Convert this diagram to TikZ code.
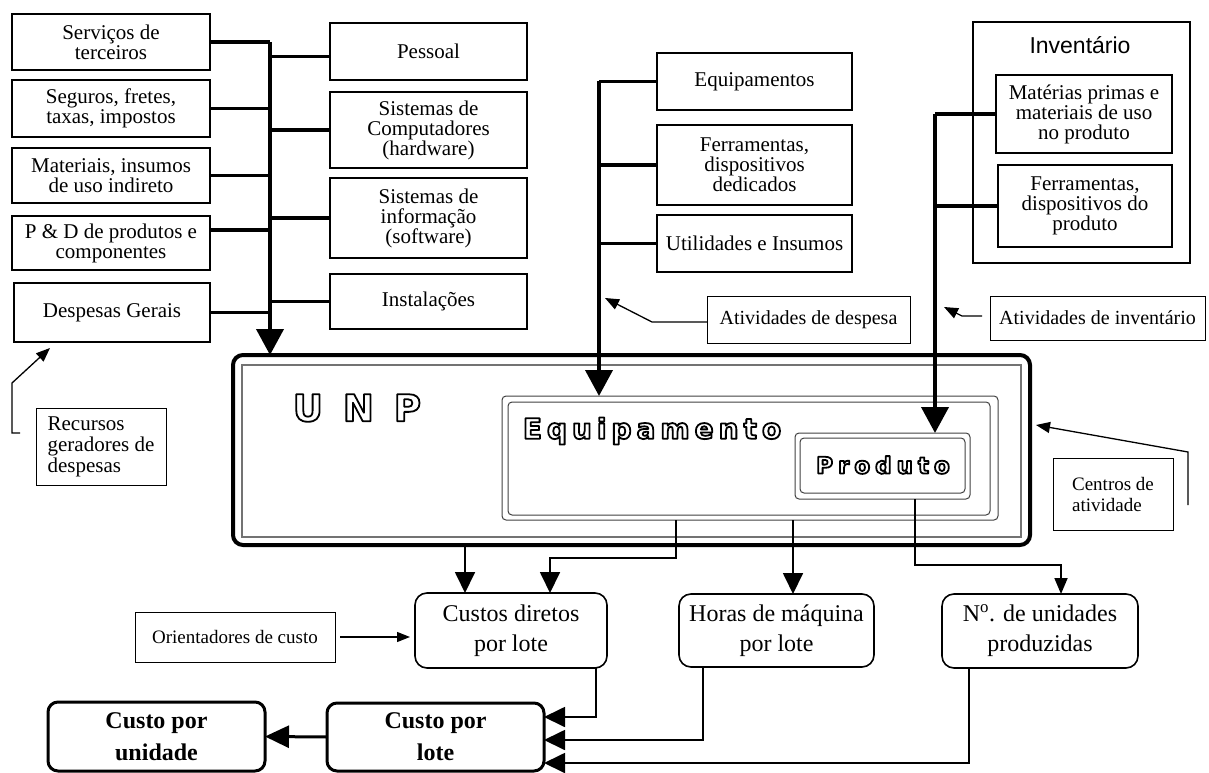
\documentclass[tikz,border=0pt]{standalone}
\usepackage{fontspec}
\setmainfont{Liberation Serif}
\newfontfamily\invfont{Liberation Sans}
\newfontfamily\hollowfont{DejaVu Sans}
\usetikzlibrary{arrows.meta}

% outlined lettering: glyphs stroked, not filled
\newcommand{\hollow}[1]{%
  \special{pdf:literal direct 1 Tr 1.8 w 1 j 0 G}#1\special{pdf:literal direct 0 Tr}}
\newcommand{\gapU}{\kern20pt}
\newcommand{\gapE}{\kern5pt}

\begin{document}
\begin{tikzpicture}[x=1pt, y=-1pt,
  every node/.style={inner sep=0pt, outer sep=0pt},
  box/.style={draw, line width=2.6pt, align=center,
    font=\fontsize{21}{20}\selectfont},
  note/.style={draw, line width=1pt, align=center,
    font=\fontsize{20}{21}\selectfont},
  frame/.style={draw=black!75, line width=1pt, rounded corners=4pt},
  driver/.style={draw, line width=1.6pt, rounded corners=12pt, align=center,
    font=\fontsize{24}{30}\selectfont},
  result/.style={draw, line width=3pt, rounded corners=10pt, align=center,
    font=\bfseries\fontsize{24}{32}\selectfont},
  hollowtxt/.style={font=\hollowfont\bfseries\fontsize{#1}{#1}\selectfont},
  trunk/.style={line width=4pt},
  branch/.style={line width=3.4pt},
  bigtip/.style={-{Triangle[width=27pt,length=26pt]}},
  feed/.style={line width=1.8pt},
  feedtip/.style={-{Triangle[width=20pt,length=21pt]}},
  pointer/.style={line width=1.3pt, -{Triangle[width=11pt,length=14pt]}},
]
\useasboundingbox (0,0) rectangle (1209,773);

% ---- expense resources (left column)
\node[box, minimum width=198pt, minimum height=56pt] (serv) at (111,42) {Serviços de\\terceiros};
\node[box, minimum width=198pt, minimum height=57pt] (seg) at (111,108.5) {Seguros, fretes,\\taxas, impostos};
\node[box, minimum width=198pt, minimum height=55pt] (mat) at (111,175.5) {Materiais, insumos\\de uso indireto};
\node[box, minimum width=198pt, minimum height=54pt] (ped) at (111,243) {P \& D de produtos e\\componentes};
\node[box, minimum width=196pt, minimum height=59pt] (desp) at (112,312.5) {Despesas Gerais};

% ---- expense resources (second column)
\node[box, minimum width=197pt, minimum height=57pt] (pess) at (428.5,51.5) {Pessoal};
\node[box, minimum width=197pt, minimum height=76pt] (scomp) at (428.5,130) {Sistemas de\\Computadores\\(hardware)};
\node[box, minimum width=197pt, minimum height=80pt] (sinfo) at (428.5,218) {Sistemas de\\informação\\(software)};
\node[box, minimum width=197pt, minimum height=55pt] (inst) at (428.5,301.5) {Instalações};

% ---- equipment expenses
\node[box, minimum width=195pt, minimum height=57pt] (equ) at (754.5,81.5) {Equipamentos};
\node[box, minimum width=195pt, minimum height=80pt] (ferd) at (754.5,165) {Ferramentas,\\dispositivos\\dedicados};
\node[box, minimum width=195pt, minimum height=57pt] (util) at (754.5,243.5) {Utilidades e Insumos};

% ---- inventory
\node[draw, line width=1.8pt, minimum width=217pt, minimum height=241pt] (inv) at (1081.5,142.5) {};
\node[font=\invfont\fontsize{23}{23}\selectfont] (invt) at (1080,45) {Inventário};
\node[box, minimum width=176pt, minimum height=78pt] (mp) at (1084,114) {Matérias primas e\\materiais de uso\\no produto};
\node[box, minimum width=174pt, minimum height=82pt] (fdp) at (1085,206) {Ferramentas,\\dispositivos do\\produto};

% ---- activity centres
\node[draw, line width=4pt, rounded corners=10pt, minimum width=797pt, minimum height=190pt] (unp) at (631.5,450) {};
\node[draw=black!55, line width=2pt, minimum width=779pt, minimum height=172pt] (unpin) at (631.5,450.5) {};
\node[frame, minimum width=496pt, minimum height=124pt] (eqf) at (750,458) {};
\node[frame, minimum width=482pt, minimum height=113pt] (eqfin) at (749,458.5) {};
\node[frame, minimum width=175pt, minimum height=66pt] (prf) at (882.5,466) {};
\node[frame, minimum width=165pt, minimum height=55pt] (prfin) at (882.5,465.5) {};

\node[hollowtxt=37] (unpt) at (357,408) {\hollow{U\gapU N\gapU P}};
\node[hollowtxt=28] (eqt) at (652,431) {\hollow{E\gapE q\gapE u\gapE i\gapE p\gapE a\gapE m\gapE e\gapE n\gapE t\gapE o}};
\node[hollowtxt=23] (prt) at (883,465) {\hollow{P\gapE r\gapE o\gapE d\gapE u\gapE t\gapE o}};

% ---- resource trunk
\coordinate (t1) at (270,42);
\coordinate (pedout) at ([yshift=13pt]ped.east);
\coordinate (pessin) at ([yshift=-5pt]pess.west);
\draw[branch] (serv.east) -- (t1);
\draw[branch] (seg.east) -- (seg.east -| t1);
\draw[branch] (mat.east) -- (mat.east -| t1);
\draw[branch] (pedout) -- (pedout -| t1);
\draw[branch] (desp.east) -- (desp.east -| t1);
\draw[branch] (pessin -| t1) -- (pessin);
\draw[branch] (scomp.west -| t1) -- (scomp.west);
\draw[branch] (sinfo.west -| t1) -- (sinfo.west);
\draw[branch] (inst.west -| t1) -- (inst.west);
\draw[trunk, bigtip] (t1) -- (t1 |- unp.north);

% ---- equipment trunk
\coordinate (t2) at (599,0);
\draw[branch] (equ.west -| t2) -- (equ.west);
\draw[branch] (ferd.west -| t2) -- (ferd.west);
\draw[branch] (util.west -| t2) -- (util.west);
\draw[trunk, bigtip] (equ.west -| t2) -- (t2 |- eqf.north);

% ---- inventory trunk
\coordinate (t3) at (935,0);
\draw[branch] (mp.west -| t3) -- (mp.west);
\draw[branch] (fdp.west -| t3) -- (fdp.west);
\draw[trunk, bigtip] (mp.west -| t3) -- (t3 |- prf.north);

% ---- callouts
\node[note, minimum width=203pt, minimum height=47pt] (ades) at (808.5,319.5) {Atividades de despesa};
\node[note, minimum width=215pt, minimum height=44pt] (ainv) at (1097.5,318) {Atividades de inventário};
\node[note, minimum width=130pt, minimum height=77pt, align=left, font=\fontsize{21}{21}\selectfont] (rec) at (101,446.5) {Recursos\\geradores de\\despesas};
\node[note, minimum width=120pt, minimum height=72pt, align=left, font=\fontsize{19}{21}\selectfont] (cent) at (1113,494) {Centros de\\atividade};
\node[note, minimum width=200pt, minimum height=50pt, font=\fontsize{19}{20}\selectfont] (ori) at (235,637) {Orientadores de custo};

\coordinate (a1) at (652,322);
\coordinate (a1tip) at (605,298);
\draw[pointer] (a1 -| ades.west) -- (a1) -- (a1tip);
\coordinate (b0) at (982,316);
\coordinate (b1) at (962,316);
\coordinate (b1tip) at (944,307);
\draw[pointer] (b0) -- (b1) -- (b1tip);
\coordinate (r0) at (20,433);
\coordinate (r1) at (12,433);
\coordinate (r2) at (12,383);
\coordinate (rtip) at (50,348);
\draw[pointer] (r0) -- (r1) -- (r2) -- (rtip);
\coordinate (c0) at (1188,505);
\coordinate (c1) at (1188,452);
\coordinate (ctip) at (1036,425);
\draw[pointer] (c0) -- (c1) -- (ctip);

% ---- cost drivers
\node[driver, minimum width=192pt, minimum height=75pt] (cdl) at (511,630.5) {Custos diretos\\por lote};
\node[driver, minimum width=195pt, minimum height=73pt] (hml) at (776.5,630.5) {Horas de máquina\\por lote};
\node[driver, minimum width=196pt, minimum height=74pt] (nup) at (1040,631) {N\textsuperscript{o}. de unidades\\produzidas};

\node[result, minimum width=217pt, minimum height=69pt] (cpu) at (156.5,736.5) {Custo por\\unidade};
\node[result, minimum width=217pt, minimum height=68pt] (cpl) at (435.5,737) {Custo por\\lote};

\draw[feed, feedtip] ([xshift=-46pt]cdl.north |- unp.south) -- ([xshift=-46pt]cdl.north);
\coordinate (k1) at (676,558);
\draw[feed, feedtip] (k1 |- eqf.south) -- (k1) -| ([xshift=39pt]cdl.north);
\draw[feed, feedtip] ([xshift=16.5pt]hml.north |- eqf.south) -- ([xshift=16.5pt]hml.north);
\coordinate (k3) at (915,565);
\draw[feed, -{Triangle[width=13pt,length=16pt]}] (k3 |- prf.south) -- (k3) -| ([xshift=21pt]nup.north);
\draw[line width=1.3pt, -{Triangle[width=10pt,length=13pt]}] ([xshift=5pt]ori.east) -- ([xshift=-5pt]cdl.west |- ori.east);

\draw[feed, feedtip] ([xshift=85pt]cdl.south) |- ([yshift=20pt]cpl.east);
\draw[feed, feedtip] ([xshift=-73.5pt]hml.south) |- ([yshift=-3pt]cpl.east);
\draw[feed, feedtip] ([xshift=-71pt]nup.south) |- ([yshift=-26pt]cpl.east);
\draw[line width=3pt, -{Triangle[width=22pt,length=24pt]}] (cpl.west) -- (cpu.east);

\end{tikzpicture}
\end{document}
